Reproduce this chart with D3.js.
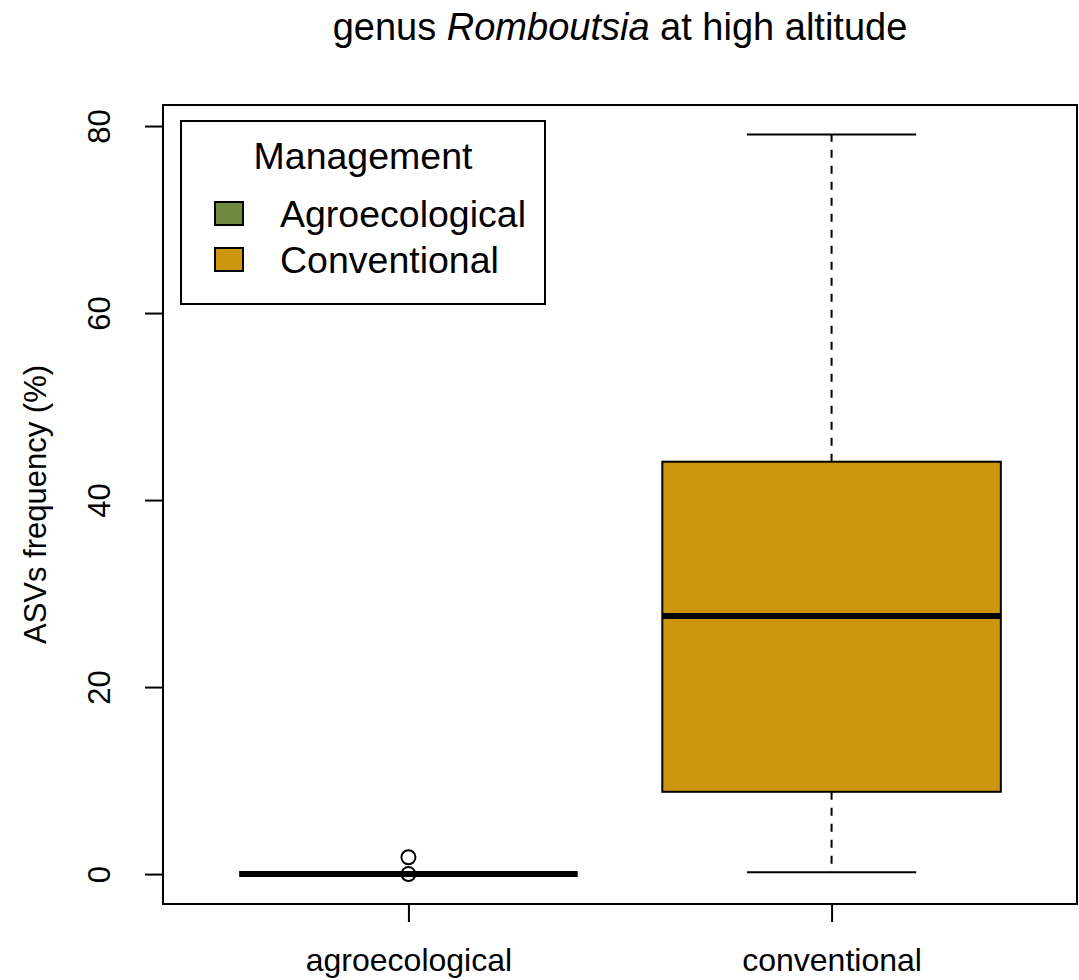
<!DOCTYPE html>
<html>
<head>
<meta charset="utf-8">
<script src="https://cdn.jsdelivr.net/npm/d3@7"></script>
<style>
  body { margin: 0; background: #fff; }
  text { font-family: "Liberation Sans", Arial, sans-serif; fill: #000; }
</style>
</head>
<body>
<div id="chart-area"></div>
<script>
// data
const categories = ["agroecological", "conventional"];
const legendLabels = ["Agroecological", "Conventional"];
const colors = ["#6E8B3D", "#CD950C"];
const lowWhisker = [0, 0.2];
const q1 = [0, 8.8];
const median = [0, 27.6];
const q3 = [0, 44.1];
const highWhisker = [0, 79.1];
const outliers = [[1.8, 0], []];
const yTicks = [0, 20, 40, 60, 80];

const width = 1079, height = 980;
const plotLeft = 163, plotRight = 1077, plotTop = 105, plotBottom = 904;

const svg = d3.select("#chart-area")
    .append("svg")
    .attr("width", width)
    .attr("height", height);

const x = d3.scaleLinear().domain([0.42, 2.58]).range([plotLeft, plotRight]);
const y = d3.scaleLinear().domain([-3.2, 82.25]).range([plotBottom, plotTop]);

const boxes = categories.map((c, i) => ({
    name: c, pos: i + 1, color: colors[i],
    lo: lowWhisker[i], q1: q1[i], med: median[i], q3: q3[i], hi: highWhisker[i],
    out: outliers[i]
}));

const boxHalf = 0.4, capHalf = 0.2;

const g = svg.selectAll("g.box")
    .data(boxes)
    .join("g")
    .attr("class", "box");

// whiskers (dashed)
g.append("line")
    .attr("x1", d => x(d.pos)).attr("x2", d => x(d.pos))
    .attr("y1", d => y(d.q3)).attr("y2", d => y(d.hi))
    .attr("stroke", "#000").attr("stroke-width", 2).attr("stroke-dasharray", "8,8");
g.append("line")
    .attr("x1", d => x(d.pos)).attr("x2", d => x(d.pos))
    .attr("y1", d => y(d.q1)).attr("y2", d => y(d.lo))
    .attr("stroke", "#000").attr("stroke-width", 2).attr("stroke-dasharray", "8,8");
// caps
g.append("line")
    .attr("x1", d => x(d.pos - capHalf)).attr("x2", d => x(d.pos + capHalf))
    .attr("y1", d => y(d.hi)).attr("y2", d => y(d.hi))
    .attr("stroke", "#000").attr("stroke-width", 2);
g.append("line")
    .attr("x1", d => x(d.pos - capHalf)).attr("x2", d => x(d.pos + capHalf))
    .attr("y1", d => y(d.lo)).attr("y2", d => y(d.lo))
    .attr("stroke", "#000").attr("stroke-width", 2);
// box
g.append("rect")
    .attr("x", d => x(d.pos - boxHalf))
    .attr("width", d => x(d.pos + boxHalf) - x(d.pos - boxHalf))
    .attr("y", d => y(d.q3))
    .attr("height", d => y(d.q1) - y(d.q3))
    .attr("fill", d => d.color)
    .attr("stroke", "#000").attr("stroke-width", 2);
// median
g.append("line")
    .attr("x1", d => x(d.pos - boxHalf)).attr("x2", d => x(d.pos + boxHalf))
    .attr("y1", d => y(d.med)).attr("y2", d => y(d.med))
    .attr("stroke", "#000").attr("stroke-width", 6);
// outliers
g.selectAll("circle")
    .data(d => d.out.map(v => ({ v, pos: d.pos })))
    .join("circle")
    .attr("cx", d => x(d.pos)).attr("cy", d => y(d.v))
    .attr("r", 7)
    .attr("fill", "none").attr("stroke", "#000").attr("stroke-width", 2);

// plot frame
svg.append("rect")
    .attr("x", plotLeft).attr("y", plotTop)
    .attr("width", plotRight - plotLeft).attr("height", plotBottom - plotTop)
    .attr("fill", "none").attr("stroke", "#000").attr("stroke-width", 2);

// y axis
const yAxis = svg.append("g")
    .attr("transform", `translate(${plotLeft},0)`)
    .call(d3.axisLeft(y).tickValues(yTicks).tickSize(18).tickPadding(0).tickFormat(d3.format("d")));
yAxis.select(".domain").remove();
yAxis.selectAll("line").attr("stroke-width", 2);
yAxis.selectAll(".tick text")
    .attr("font-size", 31)
    .attr("text-anchor", "middle")
    .attr("x", 0)
    .attr("y", 0)
    .attr("transform", "translate(-64,0) rotate(-90)")
    .attr("dy", "0.35em");

// x axis
const xAxis = svg.append("g")
    .attr("transform", `translate(0,${plotBottom})`)
    .call(d3.axisBottom(x).tickValues([1, 2]).tickSize(18).tickPadding(26)
        .tickFormat(d => categories[d - 1]));
xAxis.select(".domain").remove();
xAxis.selectAll("line").attr("stroke-width", 2);
xAxis.selectAll("text").attr("font-size", 32);

// title
const title = svg.append("text")
    .attr("x", (plotLeft + plotRight) / 2)
    .attr("y", 40)
    .attr("text-anchor", "middle")
    .attr("font-size", 38);
title.append("tspan").text("genus ");
title.append("tspan").attr("font-style", "italic").text("Romboutsia");
title.append("tspan").text(" at high altitude");

// y label
svg.append("text")
    .attr("transform", `translate(46,${(plotTop + plotBottom) / 2}) rotate(-90)`)
    .attr("text-anchor", "middle")
    .attr("font-size", 31)
    .text("ASVs frequency (%)");

// legend
const leg = svg.append("g");
leg.append("rect")
    .attr("x", 181).attr("y", 121).attr("width", 364).attr("height", 183)
    .attr("fill", "#fff").attr("stroke", "#000").attr("stroke-width", 2);
leg.append("text")
    .attr("x", 363).attr("y", 169)
    .attr("text-anchor", "middle")
    .attr("font-size", 37.5)
    .text("Management");
const items = leg.selectAll("g.item")
    .data(legendLabels)
    .join("g")
    .attr("class", "item")
    .attr("transform", (d, i) => `translate(0,${i * 46})`);
items.append("rect")
    .attr("x", 215).attr("y", 202).attr("width", 28).attr("height", 23)
    .attr("fill", (d, i) => colors[i])
    .attr("stroke", "#000").attr("stroke-width", 2);
items.append("text")
    .attr("x", 280).attr("y", 227)
    .attr("font-size", 37.5)
    .text(d => d);
</script>
</body>
</html>
